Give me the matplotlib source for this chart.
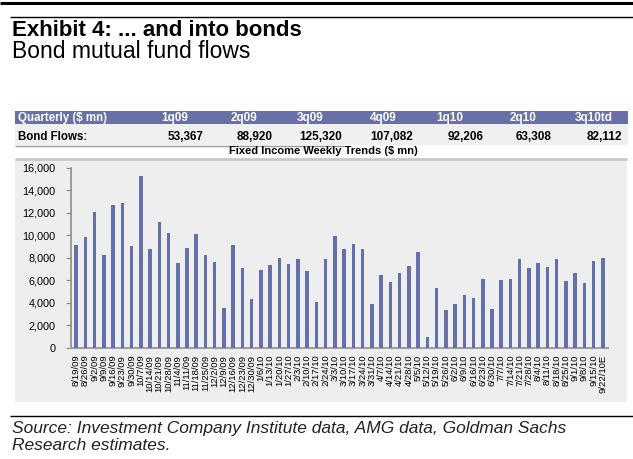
import matplotlib
matplotlib.use("Agg")
import matplotlib.pyplot as plt
from matplotlib.patches import Rectangle
from matplotlib.lines import Line2D

plt.rcParams['font.family'] = ['Liberation Sans', 'DejaVu Sans']

W, H = 633, 459

QUARTERS = ["1q09", "2q09", "3q09", "4q09", "1q10", "2q10", "3q10td"]
BOND_FLOWS = ["53,367", "88,920", "125,320", "107,082", "92,206", "63,308", "82,112"]

WEEKS = [
    "8/19/09", "8/26/09", "9/2/09", "9/9/09", "9/16/09", "9/23/09", "9/30/09",
    "10/7/09", "10/14/09", "10/21/09", "10/28/09", "11/4/09", "11/11/09", "11/18/09",
    "11/25/09", "12/2/09", "12/9/09", "12/16/09", "12/23/09", "12/30/09", "1/6/10",
    "1/13/10", "1/20/10", "1/27/10", "2/3/10", "2/10/10", "2/17/10", "2/24/10",
    "3/3/10", "3/10/10", "3/17/10", "3/24/10", "3/31/10", "4/7/10", "4/14/10",
    "4/21/10", "4/28/10", "5/5/10", "5/12/10", "5/19/10", "5/26/10", "6/2/10",
    "6/9/10", "6/16/10", "6/23/10", "6/30/10", "7/7/10", "7/14/10", "7/21/10",
    "7/28/10", "8/4/10", "8/11/10", "8/18/10", "8/25/10", "9/1/10", "9/8/10",
    "9/15/10", "9/22/10E",
]
WEEKLY_FLOWS = [
    9100, 9850, 12050, 8200, 12700, 12850, 9000,
    15250, 8800, 11200, 10200, 7500, 8900, 10100,
    8200, 7600, 3500, 9100, 7100, 4350, 6900,
    7350, 7950, 7400, 7900, 6800, 4050, 7850,
    9950, 8800, 9200, 8750, 3870, 6470, 5820,
    6650, 7230, 8500, 980, 5280, 3330, 3870,
    4680, 4450, 6100, 3440, 5990, 6100, 7910,
    7080, 7530, 7170, 7910, 5900, 6610, 5720,
    7730, 8000,
]

BAR_COLOR = "#6470AA"
HEAD_COLOR = "#6870A6"


def fx(x):
    return x / W


def fy(y):
    return 1 - y / H


fig = plt.figure(figsize=(6.33, 4.59), dpi=100)


def hline(y, x0, x1, lw, color):
    fig.add_artist(Line2D([fx(x0), fx(x1)], [fy(y), fy(y)], lw=lw, color=color,
                          transform=fig.transFigure, solid_capstyle="butt"))


def box(x0, y0, x1, y1, color, z=0):
    fig.add_artist(Rectangle((fx(x0), fy(y1)), fx(x1) - fx(x0), fy(y0) - fy(y1),
                             transform=fig.transFigure, facecolor=color,
                             edgecolor="none", zorder=z))


# rules at top
hline(2.5, 0, 633, 2.2, "black")
hline(17, 10, 633, 1.0, "black")

fig.text(fx(12), fy(30), "Exhibit 4: ... and into bonds", fontsize=16,
         fontweight="bold", va="center", ha="left")
fig.text(fx(12), fy(51), "Bond mutual fund flows", fontsize=16.5,
         va="center", ha="left")

# quarterly table
box(15, 111, 628, 124, HEAD_COLOR)
box(15, 124, 628, 145, "#F0F0F0")
hline(145.5, 15, 344, 1.0, "#999999")
fig.text(fx(18), fy(118), "Quarterly ($ mn)", color="white", fontsize=8.3,
         fontweight="bold", va="center", ha="left")
fig.text(fx(18), fy(137), "Bond Flows:", color="black", fontsize=8.3,
         fontweight="bold", va="center", ha="left")
head_x = [161.7, 230.7, 296.7, 370, 436.7, 510, 575]
val_x = [203, 273, 342, 413, 483, 552, 622]
for q, v, hx, vx in zip(QUARTERS, BOND_FLOWS, head_x, val_x):
    fig.text(fx(hx), fy(118), q, color="white", fontsize=8.5,
             fontweight="bold", va="center", ha="left")
    fig.text(fx(vx), fy(137), v, color="black", fontsize=8.5,
             fontweight="bold", va="center", ha="right")

fig.text(fx(323), fy(151), "Fixed Income Weekly Trends ($ mn)", fontsize=8,
         fontweight="bold", va="center", ha="center")

# chart panel
box(15, 159, 627, 402, "#EEEEEE")
hline(159, 15, 627, 2.0, "#C8C8C8")

ax = fig.add_axes([fx(71), fy(347.7), fx(608) - fx(71), fy(167.7) - fy(347.7)])
ax.set_facecolor("none")
ax.bar(range(len(WEEKS)), WEEKLY_FLOWS, width=0.38, color=BAR_COLOR, zorder=3)
ax.set_xlim(-0.55, len(WEEKS) - 0.45)
ax.set_ylim(0, 16000)
ax.set_yticks(range(0, 16001, 2000))
ax.set_yticklabels([f"{v:,}" for v in range(0, 16001, 2000)])
ax.set_xticks(range(len(WEEKS)))
ax.set_xticklabels(WEEKS, rotation=90, fontsize=6.8)
ax.tick_params(axis="y", labelsize=7.8, length=3.5, width=0.8, color="#888888", pad=7.5)
ax.tick_params(axis="x", length=0, pad=5)
for s in ["top", "right"]:
    ax.spines[s].set_visible(False)
ax.spines["left"].set_color("#8C8C8C")
ax.spines["left"].set_linewidth(1.2)
ax.spines["bottom"].set_color("#A0A0A0")
ax.spines["bottom"].set_linewidth(1.5)

# footer
hline(415.5, 10, 633, 1.0, "black")
fig.text(fx(12), fy(428), "Source: Investment Company Institute data, AMG data, Goldman Sachs",
         fontsize=12.5, style="italic", va="center", ha="left", color="#222222")
fig.text(fx(12), fy(445), "Research estimates.", fontsize=12.5, style="italic",
         va="center", ha="left", color="#222222")

fig.savefig("out.png", dpi=100)
